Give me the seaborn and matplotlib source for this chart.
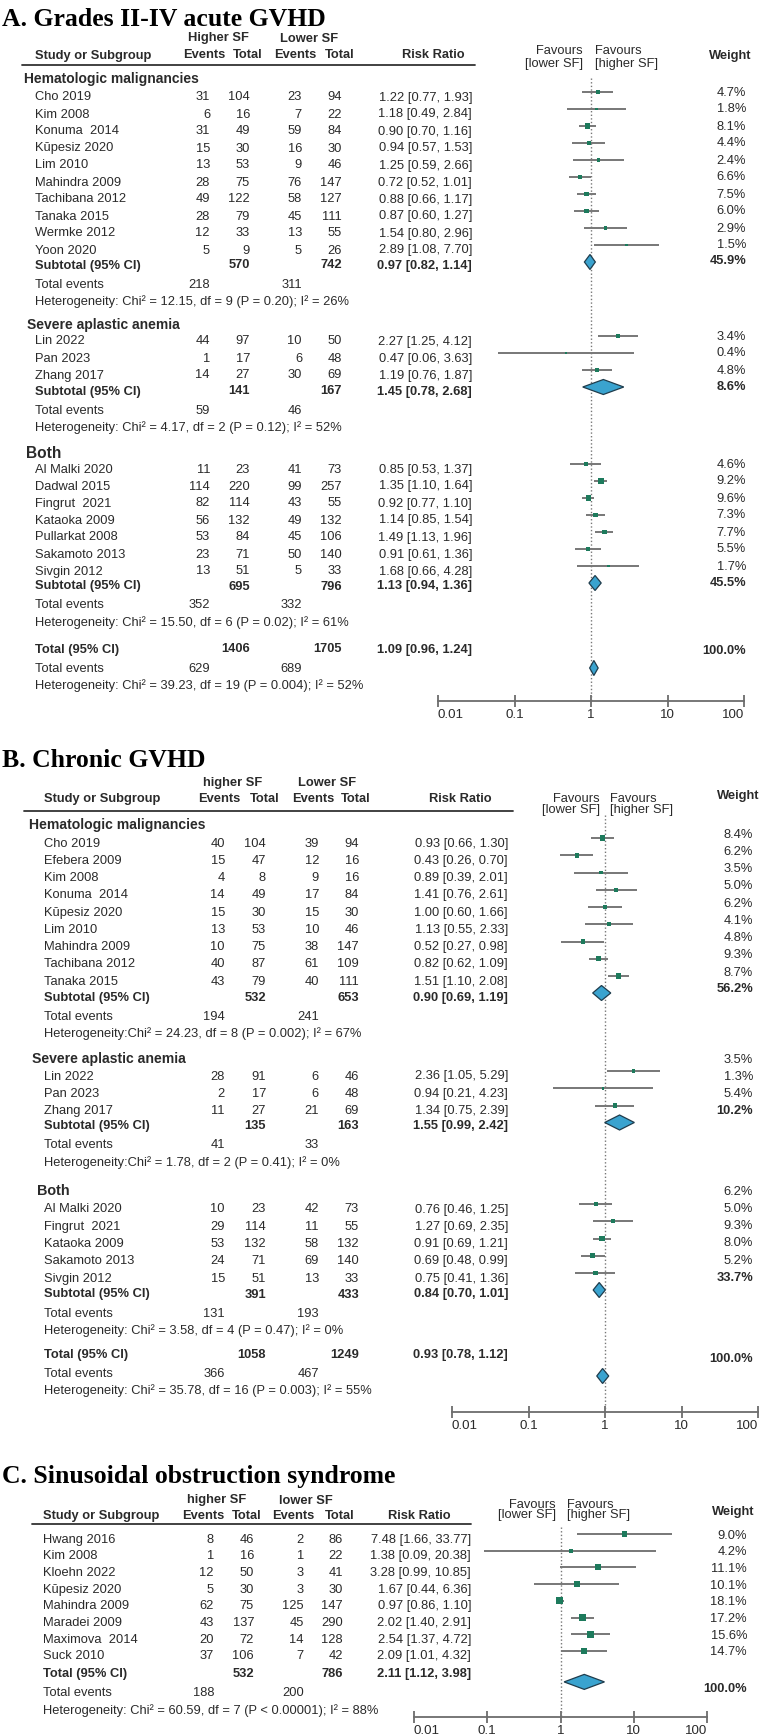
import matplotlib
matplotlib.use('Agg')
import matplotlib.pyplot as plt
import pandas as pd
import seaborn as sns
from matplotlib.lines import Line2D
from matplotlib.ticker import NullLocator

sns.set_theme(style='white')
plt.rcParams['font.family'] = ['Liberation Sans', 'DejaVu Sans']

# ---- data (study, events hi, total hi, events lo, total lo, RR, lower, upper, weight)
COLS = ['study', 'e_hi', 'n_hi', 'e_lo', 'n_lo', 'rr', 'lo', 'hi', 'w']

a_hm = [
    ('Cho 2019', 31, 104, 23, 94, 1.22, 0.77, 1.93, 4.7),
    ('Kim 2008', 6, 16, 7, 22, 1.18, 0.49, 2.84, 1.8),
    ('Konuma  2014', 31, 49, 59, 84, 0.90, 0.70, 1.16, 8.1),
    ('Kŭpesiz 2020', 15, 30, 16, 30, 0.94, 0.57, 1.53, 4.4),
    ('Lim 2010', 13, 53, 9, 46, 1.25, 0.59, 2.66, 2.4),
    ('Mahindra 2009', 28, 75, 76, 147, 0.72, 0.52, 1.01, 6.6),
    ('Tachibana 2012', 49, 122, 58, 127, 0.88, 0.66, 1.17, 7.5),
    ('Tanaka 2015', 28, 79, 45, 111, 0.87, 0.60, 1.27, 6.0),
    ('Wermke 2012', 12, 33, 13, 55, 1.54, 0.80, 2.96, 2.9),
    ('Yoon 2020', 5, 9, 5, 26, 2.89, 1.08, 7.70, 1.5),
]
a_hm_sub = (570, 742, 0.97, 0.82, 1.14, 45.9)
a_hm_events = (218, 311)
a_hm_het = 'Heterogeneity: Chi² = 12.15, df = 9 (P = 0.20); I² = 26%'

a_saa = [
    ('Lin 2022', 44, 97, 10, 50, 2.27, 1.25, 4.12, 3.4),
    ('Pan 2023', 1, 17, 6, 48, 0.47, 0.06, 3.63, 0.4),
    ('Zhang 2017', 14, 27, 30, 69, 1.19, 0.76, 1.87, 4.8),
]
a_saa_sub = (141, 167, 1.45, 0.78, 2.68, 8.6)
a_saa_events = (59, 46)
a_saa_het = 'Heterogeneity: Chi² = 4.17, df = 2 (P = 0.12); I² = 52%'

a_both = [
    ('Al Malki 2020', 11, 23, 41, 73, 0.85, 0.53, 1.37, 4.6),
    ('Dadwal 2015', 114, 220, 99, 257, 1.35, 1.10, 1.64, 9.2),
    ('Fingrut  2021', 82, 114, 43, 55, 0.92, 0.77, 1.10, 9.6),
    ('Kataoka 2009', 56, 132, 49, 132, 1.14, 0.85, 1.54, 7.3),
    ('Pullarkat 2008', 53, 84, 45, 106, 1.49, 1.13, 1.96, 7.7),
    ('Sakamoto 2013', 23, 71, 50, 140, 0.91, 0.61, 1.36, 5.5),
    ('Sivgin 2012', 13, 51, 5, 33, 1.68, 0.66, 4.28, 1.7),
]
a_both_sub = (695, 796, 1.13, 0.94, 1.36, 45.5)
a_both_events = (352, 332)
a_both_het = 'Heterogeneity: Chi² = 15.50, df = 6 (P = 0.02); I² = 61%'

a_total = (1406, 1705, 1.09, 0.96, 1.24, 100.0)
a_total_events = (629, 689)
a_total_het = 'Heterogeneity: Chi² = 39.23, df = 19 (P = 0.004); I² = 52%'

b_hm = [
    ('Cho 2019', 40, 104, 39, 94, 0.93, 0.66, 1.30, 8.4),
    ('Efebera 2009', 15, 47, 12, 16, 0.43, 0.26, 0.70, 6.2),
    ('Kim 2008', 4, 8, 9, 16, 0.89, 0.39, 2.01, 3.5),
    ('Konuma  2014', 14, 49, 17, 84, 1.41, 0.76, 2.61, 5.0),
    ('Kŭpesiz 2020', 15, 30, 15, 30, 1.00, 0.60, 1.66, 6.2),
    ('Lim 2010', 13, 53, 10, 46, 1.13, 0.55, 2.33, 4.1),
    ('Mahindra 2009', 10, 75, 38, 147, 0.52, 0.27, 0.98, 4.8),
    ('Tachibana 2012', 40, 87, 61, 109, 0.82, 0.62, 1.09, 9.3),
    ('Tanaka 2015', 43, 79, 40, 111, 1.51, 1.10, 2.08, 8.7),
]
b_hm_sub = (532, 653, 0.90, 0.69, 1.19, 56.2)
b_hm_events = (194, 241)
b_hm_het = 'Heterogeneity:Chi² = 24.23, df = 8 (P = 0.002); I² = 67%'

b_saa = [
    ('Lin 2022', 28, 91, 6, 46, 2.36, 1.05, 5.29, 3.5),
    ('Pan 2023', 2, 17, 6, 48, 0.94, 0.21, 4.23, 1.3),
    ('Zhang 2017', 11, 27, 21, 69, 1.34, 0.75, 2.39, 5.4),
]
b_saa_sub = (135, 163, 1.55, 0.99, 2.42, 10.2)
b_saa_events = (41, 33)
b_saa_het = 'Heterogeneity:Chi² = 1.78, df = 2 (P = 0.41); I² = 0%'

b_both = [
    ('Al Malki 2020', 10, 23, 42, 73, 0.76, 0.46, 1.25, 6.2),
    ('Fingrut  2021', 29, 114, 11, 55, 1.27, 0.69, 2.35, 5.0),
    ('Kataoka 2009', 53, 132, 58, 132, 0.91, 0.69, 1.21, 9.3),
    ('Sakamoto 2013', 24, 71, 69, 140, 0.69, 0.48, 0.99, 8.0),
    ('Sivgin 2012', 15, 51, 13, 33, 0.75, 0.41, 1.36, 5.2),
]
b_both_sub = (391, 433, 0.84, 0.70, 1.01, 33.7)
b_both_events = (131, 193)
b_both_het = 'Heterogeneity: Chi² = 3.58, df = 4 (P = 0.47); I² = 0%'

b_total = (1058, 1249, 0.93, 0.78, 1.12, 100.0)
b_total_events = (366, 467)
b_total_het = 'Heterogeneity: Chi² = 35.78, df = 16 (P = 0.003); I² = 55%'

c_sos = [
    ('Hwang 2016', 8, 46, 2, 86, 7.48, 1.66, 33.77, 9.0),
    ('Kim 2008', 1, 16, 1, 22, 1.38, 0.09, 20.38, 4.2),
    ('Kloehn 2022', 12, 50, 3, 41, 3.28, 0.99, 10.85, 11.1),
    ('Kŭpesiz 2020', 5, 30, 3, 30, 1.67, 0.44, 6.36, 10.1),
    ('Mahindra 2009', 62, 75, 125, 147, 0.97, 0.86, 1.10, 18.1),
    ('Maradei 2009', 43, 137, 45, 290, 2.02, 1.40, 2.91, 17.2),
    ('Maximova  2014', 20, 72, 14, 128, 2.54, 1.37, 4.72, 15.6),
    ('Suck 2010', 37, 106, 7, 42, 2.09, 1.01, 4.32, 14.7),
]
c_total = (532, 786, 2.11, 1.12, 3.98, 100.0)
c_total_events = (188, 200)
c_total_het = 'Heterogeneity: Chi² = 60.59, df = 7 (P < 0.00001); I² = 88%'

TICKS = [0.01, 0.1, 1, 10, 100]
TICK_LABELS = ['0.01', '0.1', '1', '10', '100']

# ---- styling
W, H = 762, 1735
FS = 9.3
TXT = '#2a2a2a'
GREEN = '#1d7a5c'
BLUE = '#3aa3cf'
EDGE = '#1f3c4c'
GREY = '#6c6c6c'
MARK_OFF = -4

fig = plt.figure(figsize=(W / 100, H / 100), dpi=100)
fig.patch.set_facecolor('white')


def text(x, y, s, ha='left', bold=False, size=FS, color=TXT, **kw):
    fig.text(x / W, 1 - y / H, s, ha=ha, va='center_baseline', fontsize=size,
             fontweight='bold' if bold else 'normal', color=color, **kw)


def diamond(ax, est, lo, hi, y, h=7.5):
    ax.fill([lo, est, hi, est, lo], [y, y - h, y, y + h, y],
            facecolor=BLUE, edgecolor=EDGE, lw=0.9, zorder=4)


def summary_rows(ax, L, label, sub, events, het, y, w_off, d_off):
    n_hi, n_lo, rr, lo, hi, w = sub
    text(L['name_x'], y, label, bold=True)
    text(L['cols'][1], y, str(n_hi), ha='right', bold=True)
    text(L['cols'][3], y, str(n_lo), ha='right', bold=True)
    text(L['rr_x'], y, f'{rr:.2f} [{lo:.2f}, {hi:.2f}]', ha='right', bold=True)
    text(L['w_x'], y + w_off, f'{w:.1f}%', ha='right', bold=True)
    diamond(ax, rr, lo, hi, y + d_off)
    y_ev = y + 19
    text(L['name_x'], y_ev, 'Total events')
    text(L['cols'][0], y_ev, str(events[0]), ha='right')
    text(L['cols'][2], y_ev, str(events[1]), ha='right')
    text(L['name_x'], y_ev + 17.3, het)


def draw_panel(title, groups, total, L):
    text(2, L['title_y'], title, size=18.5, bold=True, color='black',
         family=['Liberation Serif', 'DejaVu Serif'])
    text(L['hdr_hi'], L['hdr1'], L['lbl_hi'], ha='center', bold=True)
    text(L['hdr_lo'], L['hdr1'], L['lbl_lo'], ha='center', bold=True)
    text(L['name_x'], L['hdr2'], 'Study or Subgroup', bold=True)
    for cx, s in zip(L['sub_hdr'], ['Events', 'Total', 'Events', 'Total']):
        text(cx, L['hdr2'], s, ha='center', bold=True)
    text(L['rr_hdr'], L['hdr2'], 'Risk Ratio', ha='center', bold=True)
    text(L['fav_r'], L['fav1'], 'Favours', ha='right')
    text(L['fav_r'], L['fav2'], '[lower SF]', ha='right')
    text(L['fav_l'], L['fav1'], 'Favours')
    text(L['fav_l'], L['fav2'], '[higher SF]')
    text(L['w_hdr'], L['w_hdr_y'], 'Weight', ha='center', bold=True)
    fig.add_artist(Line2D([L['rule'][0] / W, L['rule'][1] / W],
                          [1 - L['rule_y'] / H] * 2, color='#333333', lw=1.3))

    top, bot = L['dot_top'] - 10, L['axis_y'] + 30
    ax = fig.add_axes([L['x0'] / W, 1 - bot / H, (L['x1'] - L['x0']) / W, (bot - top) / H])
    ax.patch.set_alpha(0)
    ax.set_xscale('log')

    for gi, g in enumerate(groups):
        if g['name']:
            text(L['group_x'][gi], L['group_y'][gi], g['name'], bold=True,
                 size=L['group_fs'][gi])
        df = pd.DataFrame(g['rows'], columns=COLS)
        df['y'] = [L['first_y'][gi] + L['step'] * i for i in range(len(df))]
        df['ym'] = df['y'] + MARK_OFF
        for r in df.itertuples():
            text(L['name_x'], r.y, r.study)
            for cx, v in zip(L['cols'], [r.e_hi, r.n_hi, r.e_lo, r.n_lo]):
                text(cx, r.y, str(v), ha='right')
            text(L['rr_x'], r.y, f'{r.rr:.2f} [{r.lo:.2f}, {r.hi:.2f}]', ha='right')
            text(L['w_x'], r.y + L['w_off'][gi], f'{r.w:.1f}%', ha='right')
        ax.hlines(df['ym'], df['lo'], df['hi'], color=GREY, lw=1.3, zorder=2)
        sns.scatterplot(data=df, x='rr', y='ym', size='w', sizes=(2, 30), size_norm=(0, 20),
                        marker='s', color=GREEN, linewidth=0, legend=False, ax=ax, zorder=3)
        y_sub = df['y'].iloc[-1] + L['s2sub'][gi]
        summary_rows(ax, L, g['label'], g['sub'], g['events'], g['het'], y_sub,
                     L['w_off_sub'][gi], L['d_off'][gi])

    if total is not None:
        summary_rows(ax, L, 'Total (95% CI)', total['sub'], total['events'], total['het'],
                     L['total_y'], L['total_w_off'], L['total_d_off'])

    ax.vlines(1, L['dot_top'], L['axis_y'], colors='#777777', linestyles=(0, (1, 1.6)), lw=1)
    ax.set_xlim(0.01, 100)
    ax.set_ylim(bot, top)
    ax.set_xlabel('')
    ax.set_ylabel('')
    ax.set_yticks([])
    for side in ['left', 'right', 'top']:
        ax.spines[side].set_visible(False)
    ax.spines['bottom'].set_position(('data', L['axis_y']))
    ax.spines['bottom'].set_color(GREY)
    ax.spines['bottom'].set_linewidth(1.3)
    ax.tick_params(axis='x', direction='inout', length=9, width=1.3, color=GREY,
                   labelsize=9.6, labelcolor=TXT, pad=1, bottom=True)
    ax.set_xticks(TICKS)
    ax.set_xticklabels(TICK_LABELS)
    ax.xaxis.set_minor_locator(NullLocator())
    # end labels sit inside the axis, as in the reference
    labels = ax.get_xticklabels()
    labels[0].set_horizontalalignment('left')
    labels[-1].set_horizontalalignment('right')


# ---- panel A
draw_panel(
    'A. Grades II-IV acute GVHD',
    [dict(name='Hematologic malignancies', rows=a_hm, label='Subtotal (95% CI)',
          sub=a_hm_sub, events=a_hm_events, het=a_hm_het),
     dict(name='Severe aplastic anemia', rows=a_saa, label='Subtotal (95% CI)',
          sub=a_saa_sub, events=a_saa_events, het=a_saa_het),
     dict(name='Both', rows=a_both, label='Subtotal (95% CI)',
          sub=a_both_sub, events=a_both_events, het=a_both_het)],
    dict(sub=a_total, events=a_total_events, het=a_total_het),
    dict(title_y=17, hdr_hi=218, hdr_lo=309, lbl_hi='Higher SF', lbl_lo='Lower SF',
         hdr1=37, hdr2=54, sub_hdr=[204, 248, 295, 340], rr_hdr=433,
         fav_r=583, fav_l=595, fav1=50, fav2=62, w_hdr=730, w_hdr_y=55,
         rule=(22, 475), rule_y=65, name_x=35, cols=[210, 250, 302, 342],
         rr_x=472, w_x=746, x0=438, x1=744, axis_y=701, dot_top=78,
         group_x=[24, 27, 26], group_y=[77, 323, 452], group_fs=[10, 10, 11.2],
         first_y=[96, 340, 468], step=17,
         s2sub=[15, 16, 15], w_off=[-5, -5, -5], w_off_sub=[-5, -4, -3], d_off=[-2, -3, -2],
         total_y=648, total_w_off=1, total_d_off=20))

# ---- panel B
draw_panel(
    'B. Chronic GVHD',
    [dict(name='Hematologic malignancies', rows=b_hm, label='Subtotal (95% CI)',
          sub=b_hm_sub, events=b_hm_events, het=b_hm_het),
     dict(name='Severe aplastic anemia', rows=b_saa, label='Subtotal (95% CI)',
          sub=b_saa_sub, events=b_saa_events, het=b_saa_het),
     dict(name='Both', rows=b_both, label='Subtotal (95% CI)',
          sub=b_both_sub, events=b_both_events, het=b_both_het)],
    dict(sub=b_total, events=b_total_events, het=b_total_het),
    dict(title_y=758, hdr_hi=233, hdr_lo=327, lbl_hi='higher SF', lbl_lo='Lower SF',
         hdr1=781, hdr2=797, sub_hdr=[219, 265, 313, 356], rr_hdr=460,
         fav_r=600, fav_l=610, fav1=797, fav2=808, w_hdr=738, w_hdr_y=794,
         rule=(24, 513), rule_y=811, name_x=44, cols=[225, 266, 319, 359],
         rr_x=508, w_x=753, x0=452, x1=758, axis_y=1412, dot_top=815,
         group_x=[29, 32, 37], group_y=[823, 1057, 1189], group_fs=[10.1, 10.1, 10.4],
         first_y=[842, 1075, 1208], step=17.25,
         s2sub=[16, 15, 16], w_off=[-9, -17, -18], w_off_sub=[-9, -15, -17], d_off=[-3, -2, -3],
         total_y=1353, total_w_off=4, total_d_off=23))

# ---- panel C
draw_panel(
    'C. Sinusoidal obstruction syndrome',
    [dict(name=None, rows=c_sos, label='Total (95% CI)',
          sub=c_total, events=c_total_events, het=c_total_het)],
    None,
    dict(title_y=1474, hdr_hi=217, hdr_lo=306, lbl_hi='higher SF', lbl_lo='lower SF',
         hdr1=1499, hdr2=1514, sub_hdr=[203, 247, 293, 340], rr_hdr=419,
         fav_r=556, fav_l=567, fav1=1503, fav2=1513, w_hdr=733, w_hdr_y=1511,
         rule=(32, 471), rule_y=1524, name_x=43, cols=[214, 254, 304, 343],
         rr_x=471, w_x=747, x0=414, x1=707, axis_y=1717, dot_top=1527,
         group_x=[0], group_y=[0], group_fs=[10], first_y=[1538], step=16.7,
         s2sub=[18], w_off=[-4], w_off_sub=[15], d_off=[9]))

fig.savefig('out.png', dpi=100, facecolor='white')
